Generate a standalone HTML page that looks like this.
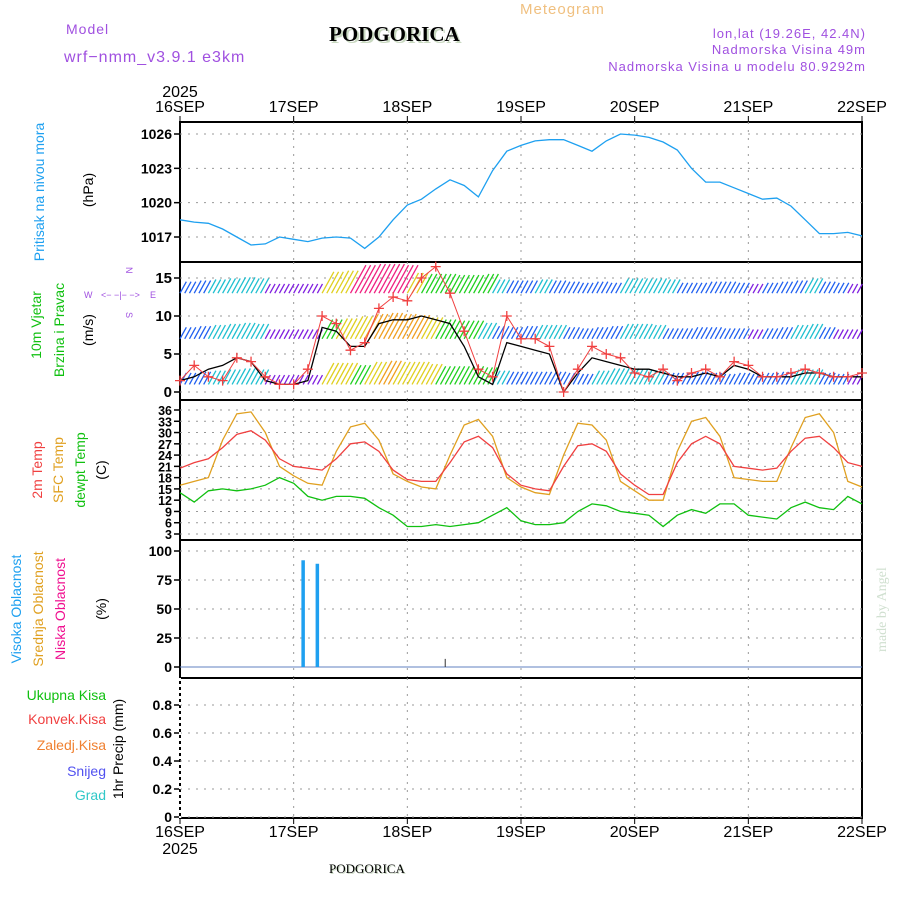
<!DOCTYPE html>
<html><head><meta charset="utf-8">
<style>
body{margin:0;background:#fff;}
svg{display:block;font-family:"Liberation Sans",sans-serif;}
</style></head>
<body>
<svg id="c" width="900" height="900" viewBox="0 0 900 900" xmlns="http://www.w3.org/2000/svg">
<g>
<text x="520" y="14" font-size="15" fill="#f0c080" letter-spacing="1">Meteogram</text>
<text x="66" y="34" font-size="14" fill="#a050e0" letter-spacing="1">Model</text>
<text x="64" y="62" font-size="16" fill="#a050e0" letter-spacing="1">wrf−nmm_v3.9.1 e3km</text>
<text x="331" y="43" font-size="21" font-weight="bold" font-family="Liberation Serif,serif" fill="#c8d8c0">PODGORICA</text>
<text x="329" y="41" font-size="21" font-weight="bold" font-family="Liberation Serif,serif" fill="#000">PODGORICA</text>
<text x="866" y="38" font-size="13" fill="#a050e0" text-anchor="end" letter-spacing="1">lon,lat (19.26E, 42.4N)</text>
<text x="866" y="54" font-size="13" fill="#a050e0" text-anchor="end" letter-spacing="1">Nadmorska Visina 49m</text>
<text x="866" y="71" font-size="13" fill="#a050e0" text-anchor="end" letter-spacing="1">Nadmorska Visina u modelu 80.9292m</text>
<text x="330" y="874" font-size="13" font-family="Liberation Serif,serif" fill="#c8d8c0">PODGORICA</text>
<text x="329" y="873" font-size="13" font-family="Liberation Serif,serif" fill="#000">PODGORICA</text>
<text transform="translate(886,652) rotate(-90)" font-size="14" font-family="Liberation Serif,serif" fill="#d0e0d0">made by Angel</text>
</g>
<g font-size="14">
<text transform="translate(44,192) rotate(-90)" text-anchor="middle" fill="#1ea0f0">Pritisak na nivou mora</text>
<text transform="translate(93,190) rotate(-90)" text-anchor="middle" fill="#000">(hPa)</text>
<text transform="translate(41,325) rotate(-90)" text-anchor="middle" fill="#10c010">10m Vjetar</text>
<text transform="translate(64,330) rotate(-90)" text-anchor="middle" fill="#10c010">Brzina i Pravac</text>
<text transform="translate(93,330) rotate(-90)" text-anchor="middle" fill="#000">(m/s)</text>
<g fill="#a050e0" font-size="9">
<text x="84" y="298">W</text><text x="150" y="298">E</text>
<text x="101" y="298">&lt;− −|− −&gt;</text>
<text transform="translate(126,267) rotate(90)">N</text>
<text transform="translate(126,312) rotate(90)">S</text>
</g>
<text transform="translate(42,470) rotate(-90)" text-anchor="middle" fill="#f04040">2m Temp</text>
<text transform="translate(63,470) rotate(-90)" text-anchor="middle" fill="#e0a020">SFC Temp</text>
<text transform="translate(85,470) rotate(-90)" text-anchor="middle" fill="#10c010">dewpt Temp</text>
<text transform="translate(106,470) rotate(-90)" text-anchor="middle" fill="#000">(C)</text>
<text transform="translate(21,609) rotate(-90)" text-anchor="middle" fill="#1ea0f0">Visoka Oblacnost</text>
<text transform="translate(43,609) rotate(-90)" text-anchor="middle" fill="#e0a020">Srednja Oblacnost</text>
<text transform="translate(65,609) rotate(-90)" text-anchor="middle" fill="#f01090">Niska Oblacnost</text>
<text transform="translate(106,609) rotate(-90)" text-anchor="middle" fill="#000">(%)</text>
<g text-anchor="end">
<text x="106" y="700" fill="#10c010">Ukupna Kisa</text>
<text x="106" y="724" fill="#f04040">Konvek.Kisa</text>
<text x="106" y="750" fill="#f08030">Zaledj.Kisa</text>
<text x="106" y="776" fill="#5050f0">Snijeg</text>
<text x="106" y="800" fill="#30c8c8">Grad</text>
</g>
<text transform="translate(123,749) rotate(-90)" text-anchor="middle" fill="#000">1hr Precip (mm)</text>
</g>
<g id="plots"></g>
</svg>
<script>
const days = ["16SEP","17SEP","18SEP","19SEP","20SEP","21SEP","22SEP"];
const pressure = [1018.5,1018.3,1018.2,1017.7,1017.0,1016.3,1016.4,1017.0,1016.8,1016.6,1016.9,1017.0,1016.9,1016.0,1017.0,1018.5,1019.8,1020.3,1021.2,1022.0,1021.5,1020.5,1022.8,1024.5,1025.0,1025.4,1025.5,1025.5,1025.0,1024.5,1025.4,1026.0,1025.9,1025.7,1025.3,1024.6,1023.0,1021.8,1021.8,1021.3,1020.8,1020.3,1020.4,1019.7,1018.5,1017.3,1017.3,1017.4,1017.1];
const pressureTicks = [1017,1020,1023,1026];
const temp2m = [20.5,22,23,26,29.5,30.5,28,23, 21,20.5,20,23,27,27.5,25,20, 17.5,17,17,22,27.5,29,26,19, 16,15,14.5,21,26.5,27,25,19, 16,13.5,13.5,22,27,29,27,21, 20.5,20,20.5,25,28.5,29,26,22, 21];
const tempSfc = [16,17,18,28,35,35.5,30,21, 18.5,16.5,16,25,31.5,32.5,28,19, 17,15.5,15,24,32,33.5,29,18, 15.5,14,13.5,24,32.5,32,28,17, 14.5,12,12,25,33,34,29,18, 17.5,17,17,26,34,35,30,17, 15.5];
const dewpt = [14,11.5,14.5,15,14.5,15,16,18, 16.5,13,12,13,13,12.5,10,8, 5,5,5.5,5,5.5,6,8,10, 6.5,5.5,5.5,6,9,11,10.5,9, 8.5,8,5,8,9.5,8.5,11,11, 8,7.5,7,10,11.5,10,9.5,13, 11];
const tempTicks = [3,6,9,12,15,18,21,24,27,30,33,36];
const windSpeed = [1.5,2,3,3.5,4.5,4,1.5,1, 1,1.5,8.5,8,6,6,9,9.5, 9.5,10,9.5,9,6,2,1,6.5, 6,5.5,5,0,2.5,4.5,4,3.5, 3,3,2.5,2,2,2.5,2,3.5, 3,2,2,2,2.5,2.5,2,2, 2];
const windGust = [1.5,3.5,2,1.5,4.5,4,2,1, 1,3,10,9,5.5,6.5,11,12.5, 12,15,16.5,13,8,3,2,10, 7,7,6,0,3,6,5,4.5, 2.5,2,3,1.5,2.5,3,2,4, 3.5,2,2,2.5,3,2.5,2,2, 2.5];
const windTicks = [0,5,10,15];
const barbTop = [5,6,7,8,9,8,3,3, 3,3,14,15,20,21,21,20, 13,12,12,11,11,12,7,6, 6,7,6,5,4,5,4,8, 8,8,7,4,4,5,5,4, 3,4,5,6,8,5,4,3, 3];
const barbMid = [5,6,7,8,9,8,3,3, 3,3,12,13,15,17,18,17, 16,14,12,11,11,9,6,5, 6,7,7,5,4,5,6,8, 8,7,4,4,5,5,4,4, 3,4,5,7,8,5,3,3, 3];
const barbBot = [5,6,7,8,9,8,3,3, 3,3,14,14,12,15,16,15, 15,13,11,11,11,10,7,6, 6,6,6,5,4,7,9,9, 8,7,5,5,6,5,4,5, 4,5,6,8,8,5,4,3, 3];
const cloudHours = [26,29,56];
const cloudValues = [92,89,7];
const cloudTicks = [0,25,50,75,100];
const precipTicks = [0,0.2,0.4,0.6,0.8];

const NS="http://www.w3.org/2000/svg";
const G=document.getElementById('plots');
const X0=180,X1=862;
const xh=h=>X0+h*(X1-X0)/144;
function el(t,a,p){const e=document.createElementNS(NS,t);for(const k in a)e.setAttribute(k,a[k]);(p||G).appendChild(e);return e;}
function lin(d0,d1,r0,r1){return v=>r0+(v-d0)*(r1-r0)/(d1-d0);}
const yP=lin(1017,1026,237,134);
const yW=lin(0,15,392,278);
const yT=lin(3,36,534,410);
const yC=lin(0,100,667,551);
const yR=lin(0,0.8,817,705);
const panels=[[122,262],[262,400],[400,540],[540,678],[678,818]];

panels.forEach((p,i)=>{
  const f=el('rect',{x:X0,y:p[0],width:X1-X0,height:p[1]-p[0],fill:'none',stroke:'#000','stroke-width':2});
  
  
  for(let d=1;d<6;d++){const l=el('line',{x1:xh(d*24),x2:xh(d*24),y1:p[0],y2:p[1],stroke:'#999','stroke-dasharray':'2,6'});
    
    }
});
function yTicks(ticks,fy,fmt,fs,name){
  ticks.forEach(v=>{const y=fy(v);
    const g=el('line',{x1:X0,x2:X1,y1:y,y2:y,stroke:'#999','stroke-dasharray':'2,6'});
    
    
    el('line',{x1:X0-6,x2:X0,y1:y,y2:y,stroke:'#000','stroke-width':1.5});
    const t=el('text',{x:X0-8,y:y+5,'text-anchor':'end','font-size':fs,'font-weight':'bold',fill:'#000'});
    t.textContent=fmt(v);
    
    
  });
}
yTicks(pressureTicks,yP,v=>v,14,'pressure');
yTicks(windTicks,yW,v=>v,15,'wind');
yTicks(tempTicks,yT,v=>v,12.5,'temp');
yTicks(cloudTicks,yC,v=>v,14,'cloud');
yTicks(precipTicks,yR,v=>v===0?'0':v.toFixed(1),14,'precip');
el('line',{x1:X0,x2:X0,y1:678,y2:818,stroke:'#fff','stroke-width':2,'stroke-dasharray':'3,3'});
days.forEach((d,i)=>{const x=xh(i*24);
  const t=el('text',{x:x,y:112,'text-anchor':'middle','font-size':16,fill:'#000'});t.textContent=d;
  
  
  const b=el('text',{x:x,y:837,'text-anchor':'middle','font-size':16,fill:'#000'});b.textContent=d;
  
  
  el('line',{x1:x,x2:x,y1:116,y2:122,stroke:'#000'});
  el('line',{x1:x,x2:x,y1:818,y2:824,stroke:'#000'});
});
[[180,97],[180,854]].forEach(p=>{const t=el('text',{x:p[0],y:p[1],'text-anchor':'middle','font-size':16,fill:'#000'});t.textContent='2025';
  
  });

function line(arr,fy,color,name,w){
  const pts=arr.map((v,i)=>xh(i*3).toFixed(1)+','+fy(v).toFixed(1)).join(' ');
  const p=el('polyline',{points:pts,fill:'none',stroke:color,'stroke-width':w||1.3});
  
  
  return p;
}
line(pressure,yP,'#1ea0f0','pressure-line');

function barbColor(s){if(s<4)return '#8020e0';if(s<7)return '#2060f0';if(s<10)return '#20c0d0';if(s<13)return '#20d020';if(s<16)return '#e0d020';if(s<19)return '#f0a020';return '#f02080';}
function barbs(arr,base,name){
  const g=el('g',{});
  
  
  arr.forEach((s,i)=>{
    for(let k=0;k<3;k++){
      const x=xh(i*3+k);if(x>X1-2)continue;
      const y0=yW(base);const len=6+s*1.1;
      const ln=el('line',{x1:x,y1:y0,x2:x+len*0.55,y2:y0-len,stroke:barbColor(s),'stroke-width':1.3},g);
      
      
    }
  });
}
barbs(barbBot,1,'wind-barbs-low');
barbs(barbMid,7,'wind-barbs-mid');
barbs(barbTop,13,'wind-barbs-high');
line(windSpeed,yW,'#000','wind-speed-line',1.3);
line(windGust,yW,'#f04040','wind-gust-line',1);
windGust.forEach((v,i)=>{const x=xh(i*3),y=yW(v);
  const m=el('path',{d:`M${x-5},${y}h10M${x},${y-5}v10`,stroke:'#f04040','stroke-width':1.3});
  
  });

line(tempSfc,yT,'#e0a020','sfc-temp-line');
line(temp2m,yT,'#f04040','temp-2m-line');
line(dewpt,yT,'#10c010','dewpt-line');

el('line',{x1:X0,x2:X1,y1:yC(0),y2:yC(0),stroke:'#6080c0','stroke-width':1});
cloudHours.forEach((h,i)=>{const v=cloudValues[i];
  const w=i<2?3.5:1;const c=i<2?'#1ea0f0':'#333';
  const r=el('rect',{x:xh(h)-w/2,y:yC(v),width:w,height:yC(0)-yC(v),fill:c});
  
  });
</script>
</body></html>
